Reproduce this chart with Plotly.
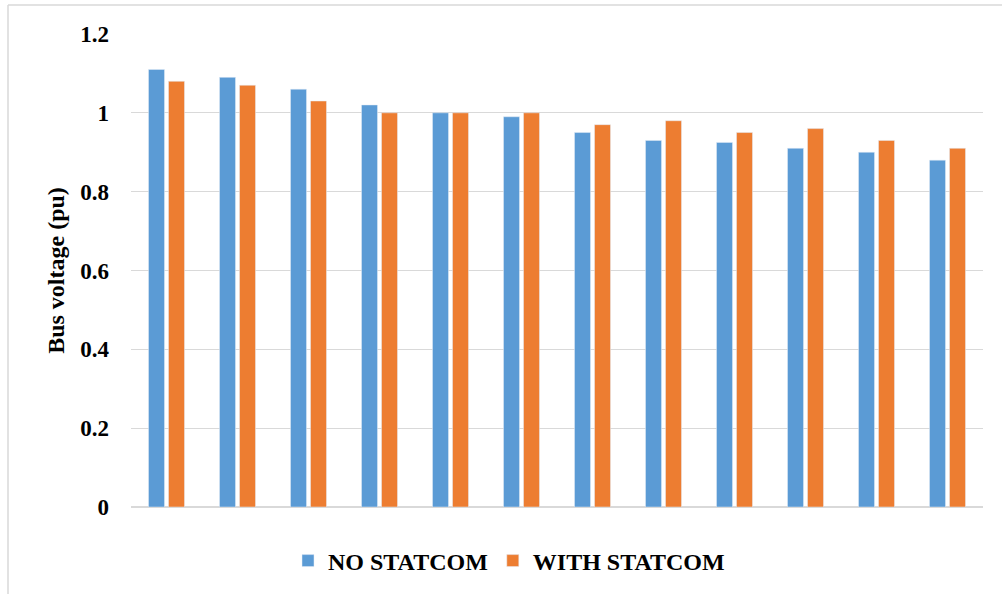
import plotly.graph_objects as go

buses = [f"Bus {i}" for i in range(1, 13)]
no_statcom = [1.11, 1.09, 1.06, 1.02, 1.00, 0.99, 0.95, 0.93, 0.925, 0.91, 0.90, 0.88]
with_statcom = [1.08, 1.07, 1.03, 1.00, 1.00, 1.00, 0.97, 0.98, 0.95, 0.96, 0.93, 0.91]
y_ticks = [0, 0.2, 0.4, 0.6, 0.8, 1.0, 1.2]
y_tick_labels = ["0", "0.2", "0.4", "0.6", "0.8", "1", "1.2"]

FONT = "Times New Roman, Liberation Serif, serif"
W, H = 1002, 594
L, R, T, B = 131, 19, 34, 87
pw, ph = W - L - R, H - T - B

def px(x):
    return (x - L) / pw

def py(y):
    return (H - B - y) / ph

fig = go.Figure()
fig.add_trace(go.Bar(x=buses, y=no_statcom, name="NO STATCOM", marker_color="#5B9BD5"))
fig.add_trace(go.Bar(x=buses, y=with_statcom, name="WITH STATCOM", marker_color="#ED7D31"))

fig.update_layout(
    width=W, height=H,
    margin=dict(l=L, r=R, t=T, b=B, autoexpand=False),
    paper_bgcolor="white", plot_bgcolor="white",
    barmode="group", bargap=0.437, bargroupgap=0.2,
    font=dict(family=FONT, size=23, color="black"),
    showlegend=True,
    legend=dict(orientation="h", x=px(288), xanchor="left", y=py(561), yanchor="middle",
                font=dict(family=FONT, size=24, color="black", weight="bold"),
                bgcolor="rgba(0,0,0,0)"),
    xaxis=dict(showticklabels=False, showgrid=False, zeroline=False, ticks="",
               showline=False),
    yaxis=dict(range=[0, 1.2], tickvals=y_ticks, ticktext=y_tick_labels,
               showgrid=True, gridcolor="#D9D9D9", gridwidth=1.3,
               zeroline=True, zerolinecolor="#D9D9D9", zerolinewidth=2,
               ticks="", ticklabelstandoff=21,
               tickfont=dict(family=FONT, size=23, color="black", weight="bold"),
               title=dict(text="Bus voltage (pu)", standoff=8,
                          font=dict(family=FONT, size=24, color="black", weight="bold"))),
    shapes=[
        dict(type="line", xref="paper", yref="paper", x0=px(8), x1=px(1010), y0=py(5), y1=py(5),
             line=dict(color="#D9D9D9", width=1.5)),
        dict(type="line", xref="paper", yref="paper", x0=px(8), x1=px(8), y0=py(5), y1=py(600),
             line=dict(color="#D9D9D9", width=1.5)),
    ],
)

fig.write_html("out.html")
